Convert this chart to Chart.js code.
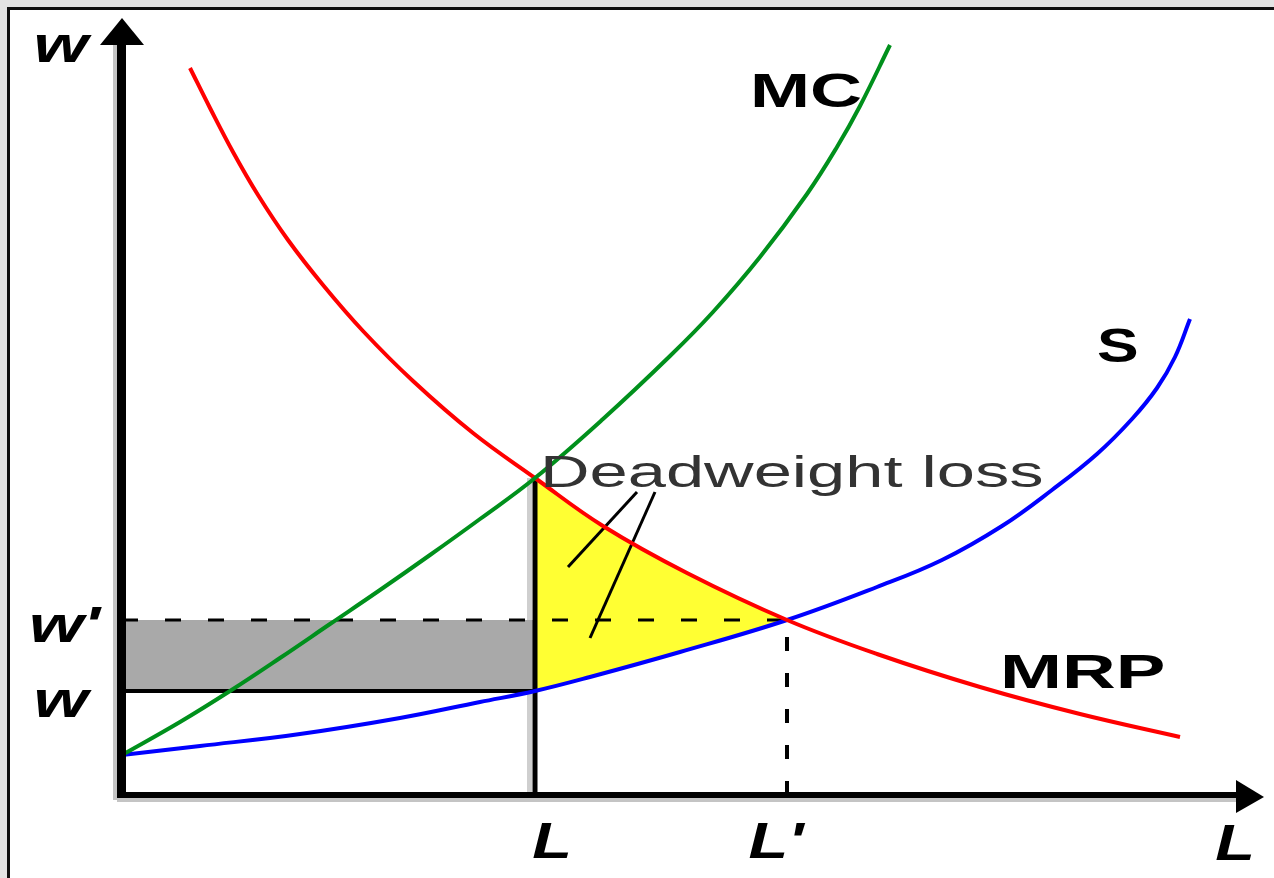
<!DOCTYPE html>
<html>
<head>
<meta charset="utf-8">
<script src="https://cdn.jsdelivr.net/npm/chart.js@4.4.0/dist/chart.umd.min.js"></script>
<style>
  html, body { margin: 0; padding: 0; background: #e4e4e4; }
  #frame { position: absolute; left: 7px; top: 7px; width: 1267px; height: 871px; background: #fff;
           border-top: 3px solid #111; border-left: 3px solid #111; box-sizing: border-box; }
  #wrap { position: absolute; left: 0; top: 0; width: 1274px; height: 878px; }
</style>
</head>
<body>
<div id="frame"></div>
<div id="wrap"><canvas id="chart" width="1274" height="878"></canvas></div>
<script>
// quantities (x = labour L, y = wage w)
const L = 41.3;        // monopsony employment
const Lprime = 66.5;   // competitive employment
const wage = 10.4;     // monopsony wage
const wagePrime = 17.5; // competitive wage
const mrpAtL = 31.7;   // MRP = MC at L

const mcL  = [0, 5.8, 10.8, 15.8, 20.8, 25.8, 30.8, 35.8, 41.3, 48.1, 54.8, 59.1, 63.8, 68.5, 71.5, 73.8, 76.8];
const mcW  = [4.0, 7.3, 10.4, 13.7, 17.1, 20.5, 24.0, 27.6, 31.7, 37.6, 43.9, 48.3, 53.8, 60.1, 64.8, 68.9, 75.0];

const mrpL = [6.8, 8.8, 11.1, 13.6, 16.6, 20.1, 24.1, 29.1, 35.1, 41.3, 48.1, 56.5, 66.5, 75.5, 85.8, 95.8, 105.8];
const mrpW = [72.7, 68.7, 64.3, 60.0, 55.5, 51.0, 46.4, 41.4, 36.2, 31.7, 26.9, 22.2, 17.5, 14.1, 10.8, 8.1, 5.8];

const sL   = [0, 7.8, 17.8, 27.8, 35.8, 41.3, 46.8, 55.8, 66.5, 75.5, 82.0, 88.0, 93.0, 97.5, 101.0, 103.5, 105.3, 106.8];
const sW   = [4.0, 4.9, 6.1, 7.7, 9.3, 10.4, 11.8, 14.3, 17.5, 20.8, 23.5, 26.9, 30.5, 34.1, 37.6, 40.7, 43.8, 47.6];

// pointer lines from the "Deadweight loss" note
const pointerA = [{x: 51.5, y: 30.3}, {x: 44.6, y: 22.8}];
const pointerB = [{x: 53.3, y: 30.3}, {x: 46.8, y: 15.7}];

const toPts = (xs, ys) => xs.map((x, i) => ({x: x, y: ys[i]}));
const between = (pts) => pts.filter(p => p.x >= L && p.x <= Lprime);

const curve = (label, pts, color) => ({
    label: label, data: pts, borderColor: color, borderWidth: 4,
    pointRadius: 0, showLine: true, tension: 0.4, fill: false, order: 1
});
const straight = (pts, width, dash, order) => ({
    data: pts, borderColor: '#000', borderWidth: width, borderDash: dash || [],
    pointRadius: 0, showLine: true, fill: false, order: order
});

const datasets = [
    curve('MC', toPts(mcL, mcW), '#00901c'),
    curve('MRP', toPts(mrpL, mrpW), '#ff0000'),
    curve('S', toPts(sL, sW), '#0000ff'),
    straight(pointerA, 3, null, 1),
    straight(pointerB, 3, null, 1),
    straight([{x: L, y: 0}, {x: L, y: mrpAtL}], 5, null, 2),
    straight([{x: 0, y: wage}, {x: L, y: wage}], 4, null, 2),
    straight([{x: 0, y: wagePrime}, {x: Lprime, y: wagePrime}], 3, [16, 27], 2),
    straight([{x: Lprime, y: 0}, {x: Lprime, y: wagePrime}], 4, [14, 22], 2),
    // deadweight loss triangle: between MRP and S from L to L'
    {data: between(toPts(mrpL, mrpW)), showLine: true, pointRadius: 0, borderWidth: 0,
     tension: 0.4, backgroundColor: '#ffff33', fill: '+1', order: 5},
    {data: between(toPts(sL, sW)), showLine: true, pointRadius: 0, borderWidth: 0,
     tension: 0.4, fill: false, order: 5},
    // transfer rectangle between w and w'
    {data: [{x: 0, y: wagePrime}, {x: L, y: wagePrime}], showLine: true, pointRadius: 0, borderWidth: 0,
     backgroundColor: '#a9a9a9', fill: {value: wage}, order: 6}
];

function stretchText(ctx, text, x, y, font, sx, align, color) {
    ctx.save();
    ctx.font = font;
    ctx.fillStyle = color || '#000';
    ctx.textAlign = align || 'left';
    ctx.textBaseline = 'alphabetic';
    ctx.translate(x, y);
    ctx.scale(sx, 1);
    ctx.fillText(text, 0, 0);
    ctx.restore();
}

const diagramPlugin = {
    id: 'diagram',
    beforeDatasetsDraw(chart) {
        const {ctx, scales: {x, y}} = chart;
        const lx = x.getPixelForValue(L);
        ctx.save();
        ctx.fillStyle = '#cfcfcf';
        ctx.fillRect(lx - 8, y.getPixelForValue(mrpAtL), 5, y.getPixelForValue(0) - y.getPixelForValue(mrpAtL));
        ctx.restore();
    },
    afterDatasetsDraw(chart) {
        const {ctx, chartArea: a, scales: {x, y}} = chart;
        const x0 = x.getPixelForValue(0), y0 = y.getPixelForValue(0);
        ctx.save();
        // axis shadows
        ctx.fillStyle = '#c4c4c4';
        ctx.fillRect(x0 - 9, a.top + 5, 4, y0 - a.top);
        ctx.fillRect(x0 - 5, y0 + 3, a.right - x0 + 2, 4);
        // axes
        ctx.fillStyle = '#000';
        ctx.fillRect(x0 - 5, a.top + 3, 9, y0 - a.top);
        ctx.fillRect(x0 - 5, y0 - 3, a.right - x0 + 5, 6);
        ctx.beginPath();
        ctx.moveTo(x0, a.top - 22);
        ctx.lineTo(x0 - 22, a.top + 5);
        ctx.lineTo(x0 + 22, a.top + 5);
        ctx.closePath();
        ctx.fill();
        ctx.beginPath();
        ctx.moveTo(a.right + 24, y0 + 2);
        ctx.lineTo(a.right - 4, y0 - 15);
        ctx.lineTo(a.right - 4, y0 + 18);
        ctx.closePath();
        ctx.fill();
        ctx.restore();

        const axisFont = 'bold italic 50px "Liberation Sans"';
        stretchText(ctx, 'w', x0 - 34, a.top + 22, axisFont, 1.4, 'right');
        stretchText(ctx, "w'", x0 - 22, y.getPixelForValue(wagePrime) + 22, axisFont, 1.4, 'right');
        stretchText(ctx, 'w', x0 - 34, y.getPixelForValue(wage) + 26, axisFont, 1.4, 'right');
        stretchText(ctx, 'L', x.getPixelForValue(L) + 17, y0 + 63, axisFont, 1.3, 'center');
        stretchText(ctx, "L'", x.getPixelForValue(Lprime) - 11, y0 + 63, axisFont, 1.3, 'center');
        stretchText(ctx, 'L', a.right - 5, y0 + 65, axisFont, 1.3, 'center');

        const curveFont = 'bold 48px "Liberation Sans"';
        stretchText(ctx, 'MC', x.getPixelForValue(62.8), y.getPixelForValue(68.8), curveFont, 1.5);
        stretchText(ctx, 'S', x.getPixelForValue(97.5), y.getPixelForValue(43.3), curveFont, 1.3);
        stretchText(ctx, 'MRP', x.getPixelForValue(87.8), y.getPixelForValue(10.7), curveFont, 1.55);
        stretchText(ctx, 'Deadweight loss', x.getPixelForValue(41.8), y.getPixelForValue(30.8),
                    '44px "Liberation Sans"', 1.56, 'left', '#333');
    }
};

new Chart(document.getElementById('chart'), {
    type: 'scatter',
    data: { datasets: datasets },
    options: {
        responsive: false,
        animation: false,
        layout: { padding: { left: 122, right: 34, top: 40, bottom: 83 } },
        plugins: { legend: { display: false }, tooltip: { enabled: false } },
        scales: {
            x: { type: 'linear', min: 0, max: 111.8, display: false },
            y: { type: 'linear', min: 0, max: 75.5, display: false }
        }
    },
    plugins: [diagramPlugin]
});
</script>
</body>
</html>
